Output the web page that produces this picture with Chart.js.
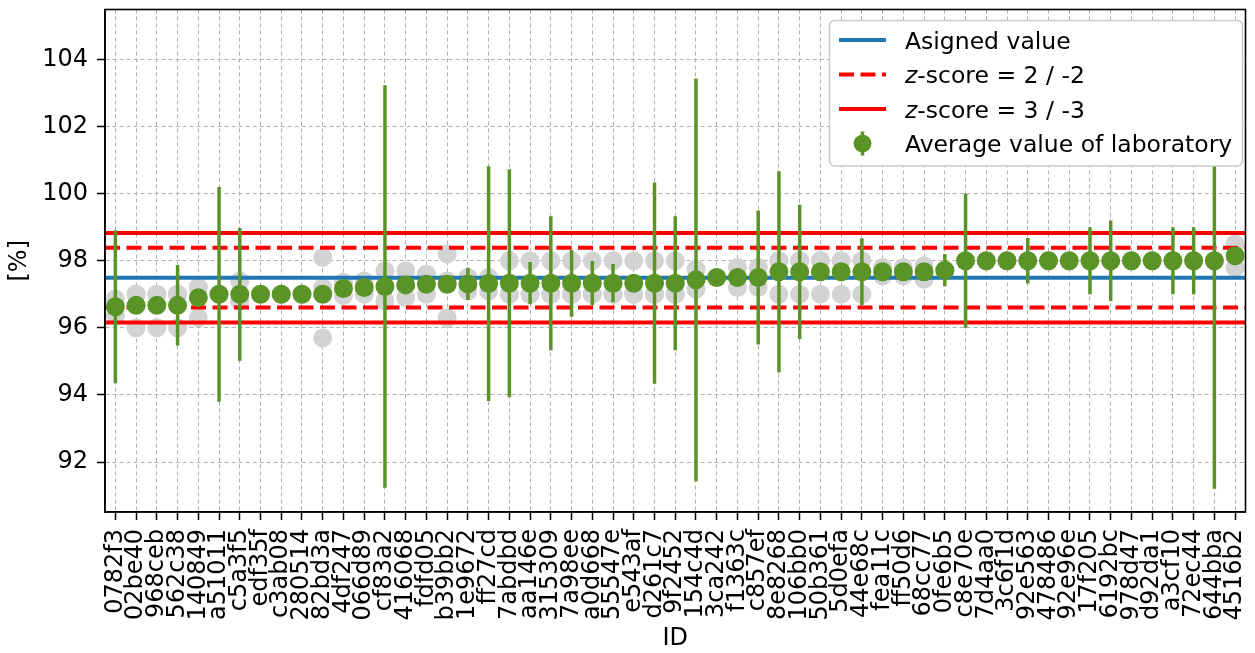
<!DOCTYPE html>
<html>
<head>
<meta charset="utf-8">
<script src="https://cdn.jsdelivr.net/npm/chart.js"></script>
<style>
  html, body { margin: 0; padding: 0; background: #fff; }
</style>
</head>
<body>
<canvas id="myChart" width="1255" height="653"></canvas>
<script>
// laboratory IDs, in plotted order
const ids = ['0782f3','02be40','968ceb','562c38','140849','a51011','c5a3f5','edf35f','c3ab08','280514',
  '82bd3a','4df247','066d89','cf83a2','416068','fdfd05','b39bb2','1e9672','ff27cd','7abdbd',
  'aa146e','315309','7a98ee','a0d668','55547e','e543af','d261c7','9f2452','154c4d','3ca242',
  'f1363c','c857ef','8e8268','106bb0','50b361','5d0efa','44e68c','fea11c','ff50d6','68cc77',
  '0fe6b5','c8e70e','7d4aa0','3c6f1d','92e563','478486','92e96e','17f205','6192bc','978d47',
  'd92da1','a3cf10','72ec44','644bba','4516b2'];

// average value of each laboratory [%]
const labMean = [96.63, 96.67, 96.67, 96.67, 96.9, 97.0, 97.0, 97.0, 97.0, 97.0,
  97.0, 97.17, 97.2, 97.23, 97.28, 97.3, 97.3, 97.31, 97.32, 97.33,
  97.33, 97.33, 97.33, 97.33, 97.33, 97.33, 97.33, 97.33, 97.43, 97.5,
  97.5, 97.5, 97.67, 97.67, 97.67, 97.67, 97.67, 97.67, 97.67, 97.67,
  97.72, 98.0, 98.0, 98.0, 98.0, 98.0, 98.0, 98.0, 98.0, 98.0,
  98.0, 98.0, 98.0, 98.0, 98.15];

// expanded uncertainty of each laboratory [%]
const labUnc = [2.28, 0, 0, 1.2, 0, 3.2, 1.98, 0, 0, 0,
  0, 0, 0, 6.0, 0, 0, 0, 0.48, 3.5, 3.4,
  0.63, 2.0, 1.0, 0.66, 0.57, 0, 3.0, 2.0, 6.0, 0,
  0, 2.0, 3.0, 2.0, 0, 0, 1.0, 0, 0, 0,
  0.48, 2.0, 0, 0, 0.68, 0, 0, 1.0, 1.2, 0,
  0, 1.0, 1.0, 6.8, 0];

// single results reported by each laboratory [%]
const labPoints = [
  [96.86, 96.37], [97.0, 96.0, 97.0], [97.0, 96.0, 97.0], [97.0, 96.0, 97.0], [97.2, 96.3, 97.2],
  [97.0], [97.4, 96.8, 96.8], [97.0], [97.0], [97.0],
  [98.1, 97.2, 95.7], [97.36, 96.96], [97.4, 97.0], [97.7, 96.8], [97.7, 96.9],
  [97.6, 97.0], [98.2, 97.4, 96.3], [97.5, 97.1], [97.5, 97.1], [98.0, 97.0, 97.0],
  [98.0, 97.0, 97.0], [98.0, 97.0, 97.0], [98.0, 97.0, 97.0], [98.0, 97.0, 97.0], [98.0, 97.0, 97.0],
  [98.0, 97.0, 97.0], [98.0, 97.0, 97.0], [98.0, 97.0, 97.0], [97.75, 97.15], [97.5],
  [97.8, 97.2], [97.8, 97.2], [98.0, 98.0, 97.0], [98.0, 98.0, 97.0], [98.0, 98.0, 97.0],
  [98.0, 98.0, 97.0], [98.0, 98.0, 97.0], [97.8, 97.55], [97.8, 97.55], [97.85, 97.45],
  [97.7], [98.0], [98.0], [98.0], [98.0],
  [98.0], [98.0], [98.0], [98.0], [98.0],
  [98.0], [98.0], [98.0], [98.0], [98.5, 97.8]];

const yTicks = [92, 94, 96, 98, 100, 102, 104];
const assignedValue = 97.495;
const zScore2 = [98.385, 96.605];
const zScore3 = [98.83, 96.16];

const GREEN = '#5a9426';
const BLUE = '#1f77b4';
const RED = '#ff0000';
const FONT = 'DejaVu Sans';

// full-width horizontal line on the hidden linear axis
function hline(y) {
  return [{ x: -0.5, y: y }, { x: ids.length - 0.5, y: y }];
}

const greyPts = [];
labPoints.forEach(function (vals, i) {
  vals.forEach(function (v) { greyPts.push({ x: ids[i], y: v }); });
});

// vertical error segments, separated by gaps
const errSegs = [];
labMean.forEach(function (m, i) {
  if (labUnc[i] > 0) {
    errSegs.push({ x: i, y: m - labUnc[i] }, { x: i, y: m + labUnc[i] }, { x: i, y: null });
  }
});

const refLine = function (y, color, dash) {
  return {
    type: 'line', data: hline(y), xAxisID: 'xl', yAxisID: 'y',
    borderColor: color, borderWidth: 4, borderDash: dash || [],
    pointRadius: 0, fill: false, order: 2
  };
};

// box around the axes plus the legend in the upper right corner
const framePlugin = {
  id: 'framePlugin',
  afterDatasetsDraw(chart) {
    const a = chart.chartArea;
    const ctx = chart.ctx;
    ctx.save();
    ctx.strokeStyle = '#000';
    ctx.lineWidth = 1.6;
    ctx.strokeRect(a.left, a.top, a.right - a.left, a.bottom - a.top);
    ctx.restore();
  },
  afterDraw(chart) {
    const ctx = chart.ctx;
    ctx.save();
    ctx.beginPath();
    ctx.roundRect(829.5, 20.5, 413, 145.5, 5);
    ctx.fillStyle = '#ffffff';
    ctx.fill();
    ctx.strokeStyle = '#cccccc';
    ctx.lineWidth = 1.6;
    ctx.stroke();

    const rows = [40, 74.5, 109, 143.5];
    const x0 = 839, x1 = 886, tx = 905;

    ctx.lineWidth = 4;
    ctx.strokeStyle = BLUE;
    ctx.beginPath(); ctx.moveTo(x0, rows[0]); ctx.lineTo(x1, rows[0]); ctx.stroke();
    ctx.strokeStyle = RED;
    ctx.setLineDash([15, 6.5]);
    ctx.beginPath(); ctx.moveTo(x0, rows[1]); ctx.lineTo(x1, rows[1]); ctx.stroke();
    ctx.setLineDash([]);
    ctx.beginPath(); ctx.moveTo(x0, rows[2]); ctx.lineTo(x1, rows[2]); ctx.stroke();

    ctx.strokeStyle = GREEN;
    ctx.lineWidth = 3.5;
    ctx.beginPath(); ctx.moveTo(862.5, rows[3] - 12); ctx.lineTo(862.5, rows[3] + 12); ctx.stroke();
    ctx.fillStyle = GREEN;
    ctx.beginPath(); ctx.arc(862.5, rows[3], 9, 0, Math.PI * 2); ctx.fill();

    ctx.fillStyle = '#000';
    ctx.textBaseline = 'alphabetic';
    const sz = 23.5;
    const normal = sz + 'px "' + FONT + '"';
    const italic = 'italic ' + sz + 'px "' + FONT + '"';
    ctx.font = normal;
    ctx.fillText('Asigned value', tx, rows[0] + 8.5);
    ctx.fillText('Average value of laboratory', tx, rows[3] + 8.5);
    [['-score = 2 / -2', rows[1]], ['-score = 3 / -3', rows[2]]].forEach(function (r) {
      ctx.font = italic;
      ctx.fillText('z', tx, r[1] + 8.5);
      const w = ctx.measureText('z').width;
      ctx.font = normal;
      ctx.fillText(r[0], tx + w, r[1] + 8.5);
    });
    ctx.restore();
  }
};

const ctx = document.getElementById('myChart').getContext('2d');
const myChart = new Chart(ctx, {
  type: 'line',
  data: {
    labels: ids,
    datasets: [
      {
        label: 'single results', data: greyPts,
        xAxisID: 'x', yAxisID: 'y', showLine: false,
        pointRadius: 9.5, pointBackgroundColor: '#d3d3d3', pointBorderWidth: 0,
        order: 3
      },
      refLine(assignedValue, BLUE),
      refLine(zScore2[0], RED, [15, 6.5]),
      refLine(zScore2[1], RED, [15, 6.5]),
      refLine(zScore3[0], RED),
      refLine(zScore3[1], RED),
      {
        label: 'uncertainty', data: errSegs,
        xAxisID: 'xl', yAxisID: 'y', spanGaps: false,
        borderColor: GREEN, borderWidth: 3.5, borderCapStyle: 'butt',
        pointRadius: 0, fill: false, order: 1
      },
      {
        label: 'Average value of laboratory', data: labMean,
        xAxisID: 'x', yAxisID: 'y', showLine: false,
        pointRadius: 9.5, pointBackgroundColor: GREEN, pointBorderWidth: 0,
        order: 0
      }
    ]
  },
  options: {
    responsive: false,
    animation: false,
    devicePixelRatio: 1,
    layout: { padding: { top: 8, right: 2, left: 0, bottom: 0 } },
    plugins: {
      legend: { display: false },
      tooltip: { enabled: false }
    },
    scales: {
      x: {
        type: 'category',
        offset: true,
        grid: {
          offset: false, color: '#b0b0b0', lineWidth: 1,
          tickColor: '#000', tickLength: 8, tickWidth: 1.5, tickBorderDash: []
        },
        border: { display: true, color: '#000', width: 1.6, dash: [4, 3] },
        ticks: {
          autoSkip: false, minRotation: 90, maxRotation: 90, padding: 9,
          color: '#000', font: { family: FONT, size: 24 }
        },
        title: { display: true, text: 'ID', color: '#000', font: { family: FONT, size: 24 }, padding: 0 },
        afterFit(scale) {
          scale.height = 141;
          scale.paddingLeft = 0;
          scale.paddingRight = 0;
        }
      },
      xl: {
        type: 'linear', display: false, offset: false, bounds: 'data',
        min: -0.5, max: ids.length - 0.5
      },
      y: {
        type: 'linear',
        min: 90.51, max: 105.49,
        grid: {
          color: '#b0b0b0', lineWidth: 1,
          tickColor: '#000', tickLength: 8, tickWidth: 1.5, tickBorderDash: []
        },
        border: { display: true, color: '#000', width: 1.6, dash: [4, 3] },
        ticks: { padding: 9, color: '#000', font: { family: FONT, size: 24 } },
        title: { display: true, text: '[%]', color: '#000', font: { family: FONT, size: 24 }, padding: { top: 5, bottom: 0 } },
        afterBuildTicks(scale) {
          scale.ticks = yTicks.map(function (v) { return { value: v }; });
        },
        afterFit(scale) {
          scale.width = 105;
          scale.paddingTop = 0;
          scale.paddingBottom = 0;
        }
      }
    }
  },
  plugins: [framePlugin]
});
</script>
</body>
</html>
